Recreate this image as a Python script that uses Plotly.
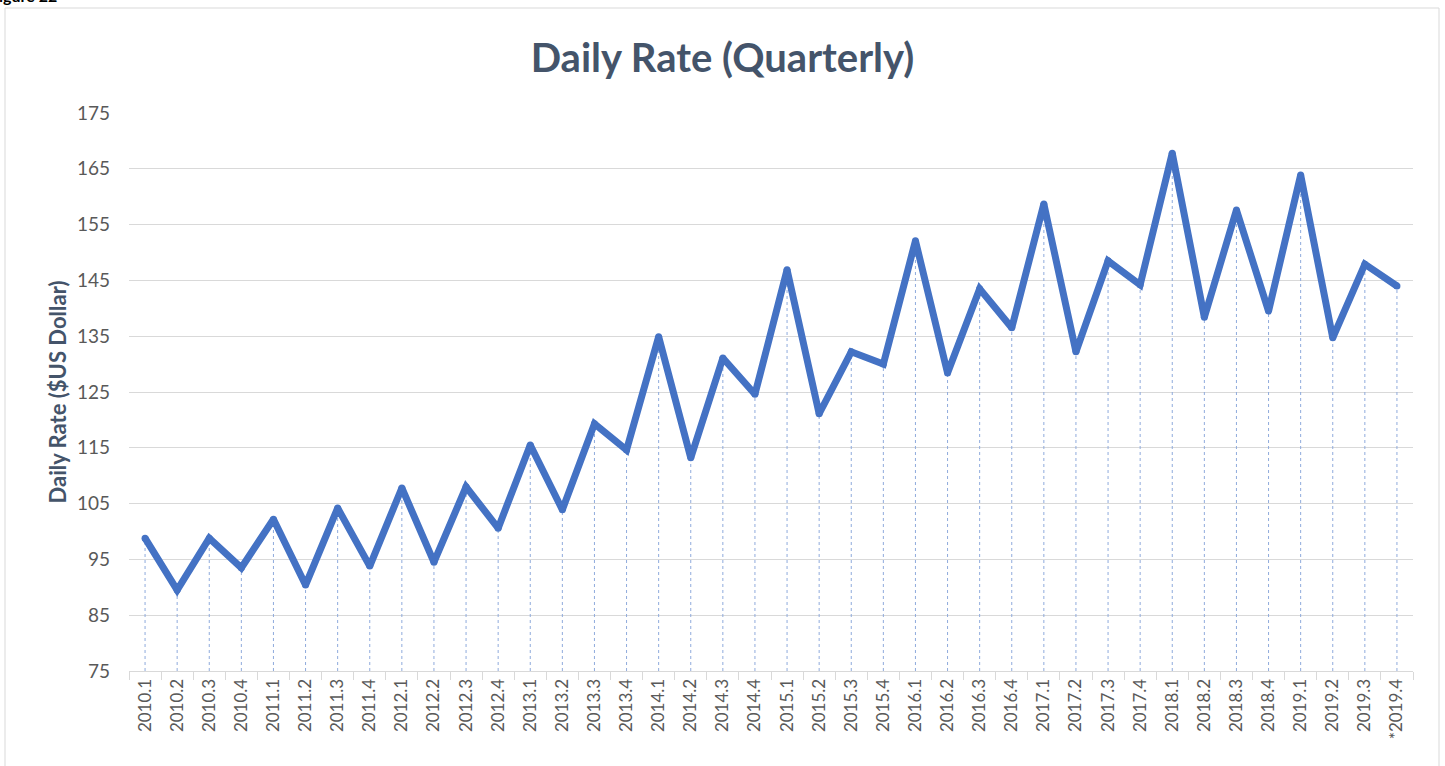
import plotly.graph_objects as go

categories = ["2010.1","2010.2","2010.3","2010.4","2011.1","2011.2","2011.3","2011.4",
              "2012.1","2012.2","2012.3","2012.4","2013.1","2013.2","2013.3","2013.4",
              "2014.1","2014.2","2014.3","2014.4","2015.1","2015.2","2015.3","2015.4",
              "2016.1","2016.2","2016.3","2016.4","2017.1","2017.2","2017.3","2017.4",
              "2018.1","2018.2","2018.3","2018.4","2019.1","2019.2","2019.3","*2019.4"]
daily_rate = [98.8, 89.5, 98.8, 93.5, 102.2, 90.4, 104.2, 93.8,
              107.8, 94.5, 108.0, 100.6, 115.5, 103.9, 119.3, 114.6,
              134.9, 113.2, 131.1, 124.6, 146.9, 121.1, 132.2, 130.0,
              152.1, 128.4, 143.5, 136.5, 158.7, 132.2, 148.5, 144.2,
              167.8, 138.4, 157.6, 139.5, 163.9, 134.7, 147.9, 144.0]
y_min, y_max, y_step = 75, 175, 10

W, H = 1445, 766
L, R, T, B = 129, 32, 113, 95
pw, ph = W - L - R, H - T - B

# drop lines from each point to the axis baseline
drop_x, drop_y = [], []
for c, v in zip(categories, daily_rate):
    drop_x += [c, c, None]
    drop_y += [y_min, v, None]

FONT = "Lato, Open Sans, sans-serif"

fig = go.Figure()
fig.add_trace(go.Scatter(x=drop_x, y=drop_y, mode="lines",
                         line=dict(color="#8FAADC", width=1, dash="dot"),
                         hoverinfo="skip", showlegend=False))
fig.add_trace(go.Scatter(x=categories, y=daily_rate, mode="lines+markers",
                         line=dict(color="#4472C4", width=7),
                         marker=dict(color="#4472C4", size=7),
                         showlegend=False, name="Daily Rate"))

fig.update_layout(
    width=W, height=H,
    margin=dict(l=L, r=R, t=T, b=B, autoexpand=False),
    paper_bgcolor="white", plot_bgcolor="white",
    font=dict(family=FONT, color="#595959", size=17),
    title=dict(text="<b>Daily Rate (Quarterly)</b>", x=0.5, xanchor="center",
               y=1 - 58 / H, yanchor="middle",
               font=dict(size=40, color="#44546A", family=FONT)),
    xaxis=dict(type="category", range=[-0.5, len(categories) - 0.5],
               tickangle=-90, showgrid=False, automargin=False,
               showline=True, linecolor="#D9D9D9", linewidth=1,
               ticks="outside", tickson="boundaries", ticklen=8, tickcolor="#D9D9D9",
               tickfont=dict(size=17, color="#595959"), zeroline=False),
    yaxis=dict(range=[y_min, y_max], tick0=y_min, dtick=y_step, automargin=False,
               showgrid=True, gridcolor="#D9D9D9", gridwidth=1,
               zeroline=False, showline=False, ticks="",
               ticklabelstandoff=18,
               tickfont=dict(size=19, color="#595959"),
               title=dict(text="<b>Daily Rate ($US Dollar)</b>", standoff=4,
                          font=dict(size=22, color="#44546A"))),
    shapes=[dict(type="rect", xref="paper", yref="paper",
                 x0=(5 - L) / pw, x1=(1439 - L) / pw,
                 y0=-0.3, y1=(H - B - 8) / ph,
                 line=dict(color="#D9D9D9", width=1), fillcolor="rgba(0,0,0,0)",
                 layer="below")],
    annotations=[dict(text="<b>Figure 22</b>", xref="paper", yref="paper",
                      x=(-12 - L) / pw, xanchor="left",
                      y=(H - B - 7) / ph, yanchor="bottom", showarrow=False,
                      font=dict(size=16, color="#000000", family=FONT))],
)

fig.write_html("out.html", config={"displayModeBar": False},
               post_script="document.body.style.margin='0';")
